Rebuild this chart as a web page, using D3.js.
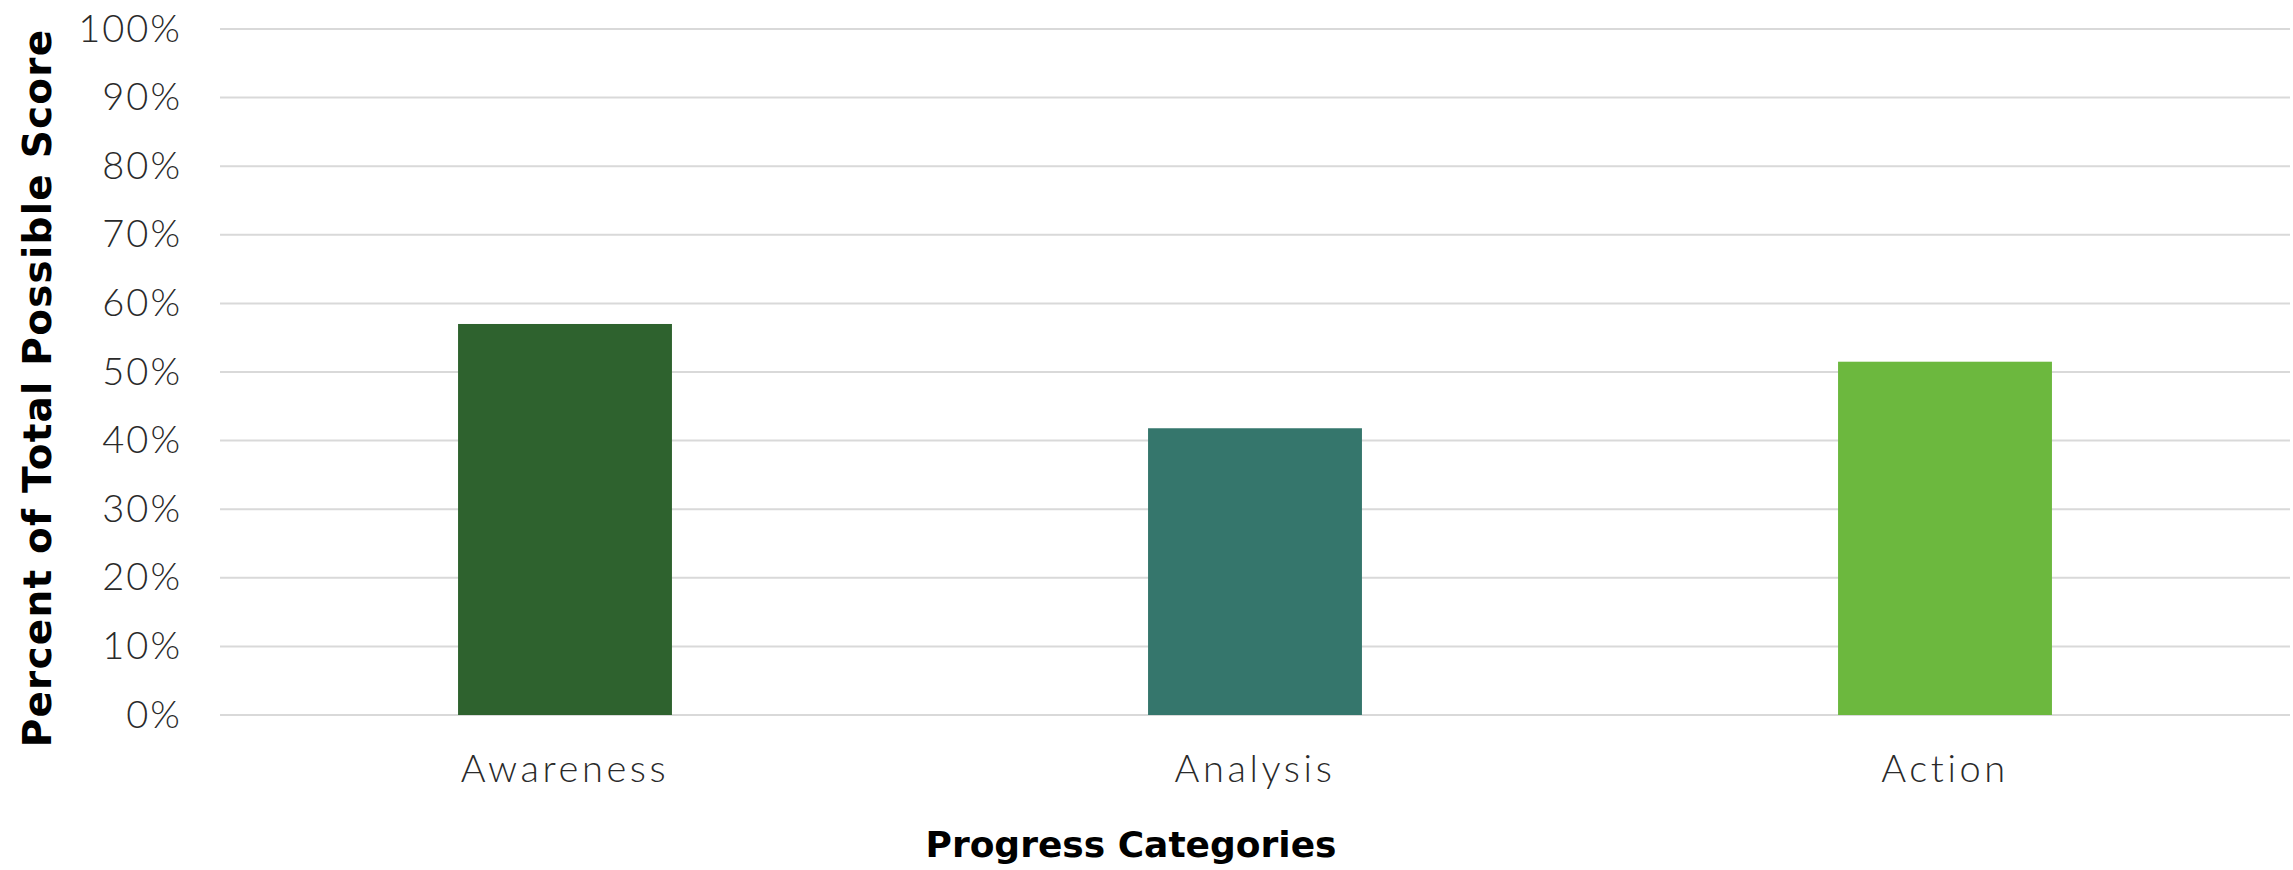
<!DOCTYPE html>
<html>
<head>
<meta charset="utf-8">
<script src="https://cdn.jsdelivr.net/npm/d3@7"></script>
<style>
  html, body { margin: 0; padding: 0; background: #fff; }
  svg { display: block; }
</style>
</head>
<body>
<svg id="chart" width="2293" height="870"></svg>
<script>
const categories = ["Awareness", "Analysis", "Action"];
const values = [0.57, 0.418, 0.515];
const barColors = ["#2E622E", "#35766C", "#6CB83E"];
const yTicks = [0, 0.1, 0.2, 0.3, 0.4, 0.5, 0.6, 0.7, 0.8, 0.9, 1.0];
const yTitle = "Percent of Total Possible Score";
const xTitle = "Progress Categories";

const svg = d3.select("#chart");
const plot = { left: 220, right: 2290, top: 29, bottom: 715 };

const x = d3.scaleBand().domain(categories).range([plot.left, plot.right]).paddingInner(0.69).paddingOuter(0.345);
const y = d3.scaleLinear().domain([0, 1]).range([plot.bottom, plot.top]);

const lightFont = "Lato, 'Open Sans', sans-serif";
const boldFont = "'DejaVu Sans', sans-serif";

// gridlines
svg.append("g").selectAll("line").data(yTicks).join("line")
  .attr("x1", plot.left).attr("x2", plot.right)
  .attr("y1", d => y(d)).attr("y2", d => y(d))
  .attr("stroke", "#d9d9d9").attr("stroke-width", 2);

// y axis
const yAxis = svg.append("g").attr("transform", `translate(${plot.left},0)`)
  .call(d3.axisLeft(y).tickValues(yTicks).tickFormat(d3.format(".0%")).tickSize(0).tickPadding(38));
yAxis.select(".domain").remove();
yAxis.selectAll("text")
  .attr("font-family", lightFont).attr("font-weight", 300)
  .attr("font-size", 38).attr("fill", "#2a2a2a").attr("letter-spacing", 2);

// bars
svg.append("g").selectAll("rect").data(categories).join("rect")
  .attr("x", d => x(d)).attr("width", x.bandwidth())
  .attr("y", (d, i) => y(values[i])).attr("height", (d, i) => y(0) - y(values[i]))
  .attr("fill", (d, i) => barColors[i]);

// x axis
const xAxis = svg.append("g").attr("transform", `translate(0,${plot.bottom})`)
  .call(d3.axisBottom(x).tickSize(0).tickPadding(40));
xAxis.select(".domain").remove();
xAxis.selectAll("text")
  .attr("font-family", lightFont).attr("font-weight", 300)
  .attr("font-size", 38).attr("fill", "#2a2a2a").attr("letter-spacing", 3.6);

// titles
svg.append("text").text(xTitle)
  .attr("x", 1131).attr("y", 857).attr("text-anchor", "middle")
  .attr("font-family", boldFont).attr("font-weight", 700).attr("font-size", 36).attr("fill", "#000");

svg.append("text").text(yTitle)
  .attr("transform", "translate(51,388) rotate(-90)").attr("text-anchor", "middle")
  .attr("font-family", boldFont).attr("font-weight", 700).attr("font-size", 39)
  .attr("letter-spacing", 1.2).attr("fill", "#000");
</script>
</body>
</html>
